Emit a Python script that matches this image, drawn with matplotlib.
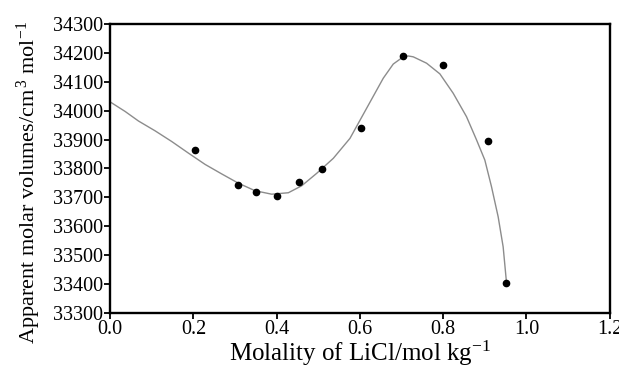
import numpy as np
import matplotlib.pyplot as plt

plt.rcParams['font.family'] = 'Liberation Serif'
plt.rcParams['mathtext.fontset'] = 'custom'
plt.rcParams['mathtext.rm'] = 'Liberation Serif'
plt.rcParams['mathtext.it'] = 'Liberation Serif:italic'

# measured points
molality = [0.204, 0.307, 0.350, 0.400, 0.454, 0.509, 0.602, 0.704, 0.800, 0.908, 0.952]
volume = [33864, 33743, 33719, 33705, 33753, 33798, 33940, 34189, 34158, 33895, 33404]

# fitted curve
curve_x = [0.0, 0.036, 0.068, 0.108, 0.148, 0.188, 0.228, 0.268, 0.308, 0.348,
           0.388, 0.428, 0.460, 0.496, 0.536, 0.576, 0.616, 0.656, 0.680, 0.704,
           0.716, 0.728, 0.760, 0.792, 0.824, 0.856, 0.880, 0.900, 0.916, 0.932,
           0.944, 0.952]
curve_y = [34030, 33997, 33964, 33930, 33893, 33853, 33814, 33781, 33749, 33723,
           33711, 33716, 33740, 33783, 33835, 33904, 34008, 34112, 34161, 34186,
           34189, 34186, 34164, 34127, 34060, 33979, 33899, 33829, 33737, 33633,
           33529, 33406]

xticks = [0.0, 0.2, 0.4, 0.6, 0.8, 1.0, 1.2]
yticks = list(range(33300, 34301, 100))

fig = plt.figure(figsize=(6.19, 3.67), dpi=100)
ax = fig.add_axes([0.178, 0.147, 0.807, 0.788])

ax.plot(curve_x, curve_y, color='#8c8c8c', lw=1.0, solid_joinstyle='round')
ax.plot(molality, volume, 'o', color='black', ms=4.5)

ax.set_xlim(0, 1.2)
ax.set_ylim(33300, 34300)
ax.set_xticks(xticks)
ax.set_xticklabels(['%.1f' % t for t in xticks])
ax.set_yticks(yticks)
ax.tick_params(direction='out', length=4, width=1.3, labelsize=14.5, pad=1,
               top=False, right=False)
for s in ax.spines.values():
    s.set_linewidth(1.7)

ax.set_xlabel('Molality of LiCl/mol kg$^{-1}$', fontsize=18, labelpad=0)
ax.set_ylabel('Apparent molar volumes/cm$^{\\,3}$ mol$^{-1}$', fontsize=16)
ax.yaxis.set_label_coords(-0.135, 0.45)

fig.savefig('out.png', dpi=100)
